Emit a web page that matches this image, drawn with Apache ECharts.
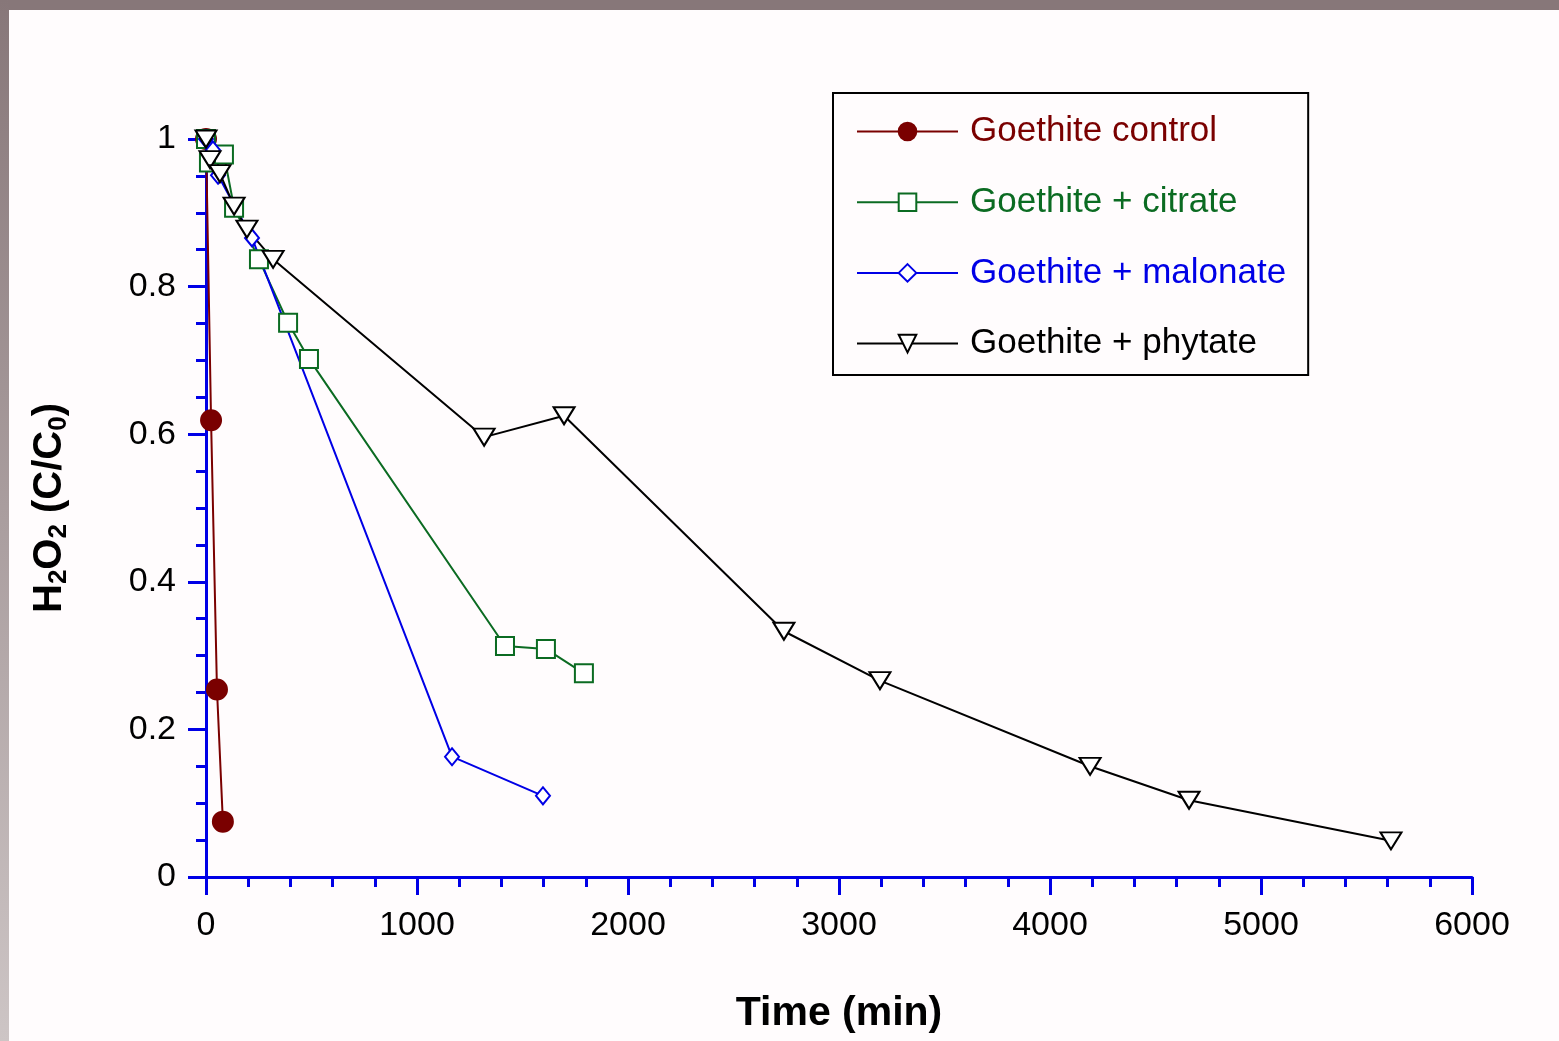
<!DOCTYPE html>
<html>
<head>
<meta charset="utf-8">
<script src="https://cdn.jsdelivr.net/npm/echarts@6/dist/echarts.min.js"></script>
<style>
  html, body { margin: 0; padding: 0; background: #fffcfd; }
  #chartMain { width: 1559px; height: 1041px; }
</style>
</head>
<body>
<div id="chartMain"></div>
<script>
// time (min) and H2O2 (C/C0)
var controlTime = [0, 24, 52, 80];
var controlConc = [1, 0.619, 0.254, 0.075];

var citrateTime = [0, 14, 85, 133, 251, 389, 488, 1417, 1611, 1791];
var citrateConc = [1, 0.968, 0.979, 0.907, 0.837, 0.751, 0.702, 0.313, 0.309, 0.276];

var malonateTime = [0, 33, 57, 218, 1166, 1597];
var malonateConc = [1, 0.985, 0.951, 0.866, 0.163, 0.110];

var phytateTime = [0, 19, 66, 133, 194, 318, 1318, 1697, 2739, 3194, 4190, 4659, 5616];
var phytateConc = [1, 0.972, 0.953, 0.909, 0.878, 0.837, 0.596, 0.625, 0.333, 0.266, 0.150, 0.104, 0.049];

var seriesNames = ['Goethite control', 'Goethite + citrate', 'Goethite + malonate', 'Goethite + phytate'];
var seriesColors = ['#7a0000', '#0b6b22', '#0000e6', '#000000'];

var FONT = 'Liberation Sans, Arial, sans-serif';

function pairs(xs, ys) {
    var out = [];
    for (var i = 0; i < xs.length; i++) {
        out.push([xs[i], ys[i]]);
    }
    return out;
}

var main = {
    init: function () {
        var myChart = echarts.init(document.getElementById('chartMain'));
        myChart.setOption(main.get_option());
    },
    make_series: function (idx, data, symbol, size, rotate) {
        return {
            name: seriesNames[idx],
            type: 'line',
            data: data,
            symbol: symbol,
            symbolSize: size,
            symbolRotate: rotate || 0,
            lineStyle: { color: seriesColors[idx], width: 2 },
            itemStyle: { color: seriesColors[idx], borderColor: seriesColors[idx], borderWidth: 2 },
            emphasis: { disabled: true }
        };
    },
    get_option: function () {
        var axisBlue = '#0000e6';
        return {
            animation: false,
            backgroundColor: '#fffcfd',
            graphic: [
                { type: 'rect', left: 0, top: 0, shape: { width: 1559, height: 10 }, style: { fill: '#877779' }, z: 100 },
                {
                    type: 'rect', left: 0, top: 0, shape: { width: 9, height: 1041 }, z: 100,
                    style: {
                        fill: new echarts.graphic.LinearGradient(0, 0, 0, 1, [
                            { offset: 0, color: '#877779' },
                            { offset: 1, color: '#cdc5c5' }
                        ])
                    }
                }
            ],
            grid: { left: 206, right: 87, top: 139, bottom: 164 },
            legend: {
                orient: 'vertical',
                left: 833,
                top: 93,
                padding: [21, 22, 14, 23],
                itemGap: 35.7,
                itemWidth: 101,
                itemHeight: 22,
                borderColor: '#000',
                borderWidth: 2,
                backgroundColor: '#fffcfd',
                textStyle: { fontSize: 35, fontFamily: FONT, lineHeight: 34, padding: [0, 0, 0, 7] },
                data: seriesNames.map(function (n, i) {
                    return { name: n, textStyle: { color: seriesColors[i] } };
                })
            },
            xAxis: {
                type: 'value',
                min: 0,
                max: 6000,
                interval: 1000,
                name: 'Time (min)',
                nameLocation: 'middle',
                nameGap: 116,
                nameTextStyle: { fontSize: 41, fontWeight: 'bold', color: '#000', fontFamily: FONT },
                axisLine: { onZero: false, lineStyle: { color: axisBlue, width: 3 } },
                axisTick: { length: 18, lineStyle: { color: axisBlue, width: 3 } },
                minorTick: { show: true, splitNumber: 5, length: 10, lineStyle: { color: axisBlue, width: 3 } },
                splitLine: { show: false },
                axisLabel: {
                    fontSize: 34, color: '#000', margin: 32, fontFamily: FONT,
                    formatter: function (v) { return String(v); }
                }
            },
            yAxis: {
                type: 'value',
                min: 0,
                max: 1,
                interval: 0.2,
                name: '{b|H}{s|2}{b|O}{s|2}{b| (C/C}{s|0}{b|)}',
                nameLocation: 'middle',
                nameGap: 134,
                nameTextStyle: {
                    color: '#000',
                    rich: {
                        b: { fontSize: 40, fontWeight: 'bold', fontFamily: FONT, color: '#000', lineHeight: 44 },
                        s: { fontSize: 26, fontWeight: 'bold', fontFamily: FONT, color: '#000', lineHeight: 26, verticalAlign: 'bottom' }
                    }
                },
                axisLine: { onZero: false, lineStyle: { color: axisBlue, width: 3 } },
                axisTick: { length: 18, lineStyle: { color: axisBlue, width: 3 } },
                minorTick: { show: true, splitNumber: 4, length: 10, lineStyle: { color: axisBlue, width: 3 } },
                splitLine: { show: false },
                axisLabel: { fontSize: 34, color: '#000', margin: 30, fontFamily: FONT, padding: [6, 0, 0, 0] }
            },
            series: [
                main.make_series(0, pairs(controlTime, controlConc), 'circle', 20),
                main.make_series(1, pairs(citrateTime, citrateConc), 'emptyRect', 18),
                main.make_series(2, pairs(malonateTime, malonateConc), 'emptyDiamond', [14, 17]),
                main.make_series(3, pairs(phytateTime, phytateConc), 'emptyTriangle', [21, 17], 180)
            ]
        };
    }
};
main.init();
</script>
</body>
</html>
